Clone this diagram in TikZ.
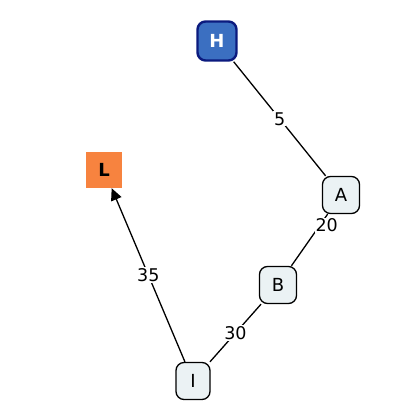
\documentclass[tikz,border=0pt]{standalone}
\usepackage{fontspec}
\setmainfont{DejaVu Sans}
\usetikzlibrary{arrows.meta}
\definecolor{hfill}{HTML}{3B6FC1}
\definecolor{hdraw}{HTML}{0B1A7E}
\definecolor{lfill}{HTML}{F7833F}
\definecolor{nfill}{HTML}{EBF2F4}
\tikzset{
  x=1pt,y=-1pt,
  nbox/.style={draw=black,line width=1.3pt,fill=nfill,rounded corners=8pt,minimum width=37pt,minimum height=37pt,inner sep=0pt,font=\fontsize{18}{18}\selectfont},
  hbox/.style={draw=hdraw,line width=2.4pt,fill=hfill,rounded corners=8pt,minimum width=39pt,minimum height=39pt,inner sep=0pt,text=white,font=\fontsize{18}{18}\selectfont\bfseries},
  lbox/.style={fill=lfill,minimum width=36pt,minimum height=36pt,inner sep=0pt,font=\fontsize{18}{18}\selectfont\bfseries},
  edge/.style={line width=1.3pt,draw=black},
  elabel/.style={fill=white,inner sep=1pt,font=\fontsize{17.5}{17.5}\selectfont},
}
\begin{document}
\begin{tikzpicture}
\useasboundingbox (0,0) rectangle (412,419);
\node[hbox] (H) at (217,41) {H};
\node[lbox] (L) at (104,170) {L};
\node[nbox] (A) at (341,195) {A};
\node[nbox] (B) at (278,285) {B};
\node[nbox,minimum width=34pt] (I) at (193,381) {I};
\draw[edge] (H) -- node[elabel,pos=0.5]{5} (A);
\draw[edge] (A) -- node[elabel,pos=0.22,xshift=7pt]{20} (B);
\draw[edge] (B) -- node[elabel,pos=0.5]{30} (I);
\draw[edge,-{Triangle[length=12pt,width=11pt]}] (I) -- node[elabel,pos=0.5]{35} (L);
\end{tikzpicture}
\end{document}
